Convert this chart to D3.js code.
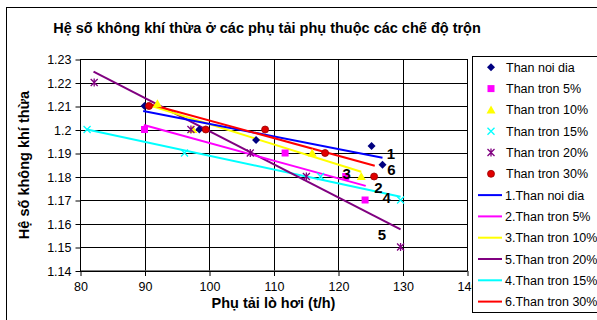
<!DOCTYPE html>
<html><head><meta charset="utf-8">
<script src="https://cdn.jsdelivr.net/npm/d3@7"></script>
<style>
body{margin:0;background:#fff;}
svg{display:block;font-family:"Liberation Sans",Arial,sans-serif;}
</style></head>
<body><svg id="c" width="597" height="320"></svg>
<script>
// ---- data ----
const seriesNames = ["Than noi dia","Than tron 5%","Than tron 10%","Than tron 15%","Than tron 20%","Than tron 30%"];
const noiDiaX = [90, 98.5, 107.3, 125.2, 126.9];
const noiDiaY = [1.21, 1.20, 1.1955, 1.193, 1.185];
const tron5X = [90, 111.8, 121.2, 124.2];
const tron5Y = [1.20, 1.19, 1.18, 1.17];
const tron10X = [92, 97.5, 116, 123.6];
const tron10Y = [1.211, 1.20, 1.19, 1.18];
const tron15X = [81.1, 96.2, 117.3, 129.7];
const tron15Y = [1.20, 1.19, 1.18, 1.17];
const tron20X = [82.2, 97.2, 106.4, 115.1, 129.7];
const tron20Y = [1.22, 1.20, 1.19, 1.18, 1.15];
const tron30X = [90.7, 99.5, 108.7, 118, 125.6];
const tron30Y = [1.21, 1.20, 1.20, 1.19, 1.18];
// trend lines: [startX, endX], [startY, endY]
const lineLabels = ["1","2","3","5","4","6"];
const lineNames = ["1.Than noi dia","2.Than tron 5%","3.Than tron 10%","5.Than tron 20%","4.Than tron 15%","6.Than tron 30%"];
const line1X = [89.8, 126.9], line1Y = [1.2079, 1.188];
const line2X = [89.9, 124.3], line2Y = [1.2019, 1.176];
const line3X = [90.6, 123.6], line3Y = [1.2104, 1.182];
const line5X = [82.1, 129.7], line5Y = [1.2246, 1.1575];
const line4X = [81.1, 129.7], line4Y = [1.20, 1.1714];
const line6X = [90.4, 125.7], line6Y = [1.2111, 1.1846];
// positions (data units) of the number labels 1..6
const labelX = {"1":128.2,"2":126.25,"3":121.35,"4":127.55,"5":126.8,"6":128.3};
const labelY = {"1":1.1899,"2":1.1754,"3":1.1811,"4":1.1711,"5":1.1551,"6":1.1831};
const xTicks = [80, 90, 100, 110, 120, 130, 140];
const yTicks = [1.14, 1.15, 1.16, 1.17, 1.18, 1.19, 1.20, 1.21, 1.22, 1.23];
const yTickLabels = ["1.14","1.15","1.16","1.17","1.18","1.19","1.2","1.21","1.22","1.23"];
const titleText = "Hệ số không khí thừa ở các phụ tải phụ thuộc các chế độ trộn";
const xTitle = "Phụ tải lò hơi (t/h)";
const yTitle = "Hệ số không khí thừa";

// ---- styles ----
const markerColors = ["#000080","#FF00FF","#FFFF00","#00FFFF","#800080","#E00000"];
const markerTypes = ["diamond","square","triangle","x","star","circle"];
const lineColors = ["#0000FF","#FF00FF","#FFFF00","#800080","#00FFFF","#FF0000"];

const svg = d3.select("#c");
const L = 80, R = 467, T = 59, B = 270.5;
const x = d3.scaleLinear().domain([80,140]).range([L,R]);
const y = d3.scaleLinear().domain([1.14,1.23]).range([B,T]);

// outer chart border
svg.append("rect").attr("x",6.5).attr("y",7.5).attr("width",600).attr("height",320)
  .attr("fill","#fff").attr("stroke","#000").attr("stroke-width",1);

// title
svg.append("text").attr("x",267).attr("y",33).attr("text-anchor","middle")
  .attr("font-size",14.5).attr("font-weight","bold").text(titleText);

// plot area
svg.append("rect").attr("x",L).attr("y",T).attr("width",R-L).attr("height",B-T).attr("fill","#fff");

// gridlines
const g = svg.append("g");
g.selectAll(".hg").data(yTicks).join("line")
  .attr("x1",L).attr("x2",R).attr("y1",d=>Math.round(y(d))+0.5).attr("y2",d=>Math.round(y(d))+0.5)
  .attr("stroke","#000").attr("stroke-width",1);
g.selectAll(".vg").data(xTicks).join("line")
  .attr("y1",T).attr("y2",B).attr("x1",d=>Math.round(x(d))+0.5).attr("x2",d=>Math.round(x(d))+0.5)
  .attr("stroke","#000").attr("stroke-width",1);

// axes
const yAxis = d3.axisLeft(y).tickValues(yTicks).tickFormat((d,i)=>yTickLabels[i]).tickSize(5).tickPadding(4);
const ya = svg.append("g").attr("transform",`translate(${L+0.5},0.5)`).call(yAxis);
const xAxis = d3.axisBottom(x).tickValues(xTicks).tickFormat(d3.format("d")).tickSize(5).tickPadding(6);
const xa = svg.append("g").attr("transform",`translate(0.5,${B+0.5})`).call(xAxis);
[ya,xa].forEach(a=>{
  a.select(".domain").remove();
  a.selectAll("line").attr("stroke","#000");
  a.selectAll("text").attr("font-size",12.5).attr("fill","#000").attr("font-family","Liberation Sans, Arial, sans-serif");
});
svg.append("rect").attr("x",L+0.5).attr("y",T+0.5).attr("width",R-L).attr("height",B-T)
  .attr("fill","none").attr("stroke","#000");

// axis titles
svg.append("text").attr("x",273.5).attr("y",308).attr("text-anchor","middle")
  .attr("font-size",14.5).attr("font-weight","bold").text(xTitle);
svg.append("text").attr("transform","translate(29,165) rotate(-90)").attr("text-anchor","middle")
  .attr("font-size",14.5).attr("font-weight","bold").text(yTitle);

// trend lines
const linesX = [line1X,line2X,line3X,line5X,line4X,line6X];
const linesY = [line1Y,line2Y,line3Y,line5Y,line4Y,line6Y];
const lineGen = d3.line().x(d=>x(d[0])).y(d=>y(d[1]));
const lineOrder = [4,3,1,2,0,5];
lineOrder.forEach(i=>{
  const pts = linesX[i].map((v,k)=>[v,linesY[i][k]]);
  svg.append("path").attr("d",lineGen(pts)).attr("fill","none")
    .attr("stroke",lineColors[i]).attr("stroke-width",2);
});

// markers
function drawMarker(sel, type, color){
  if(type==="diamond"){
    sel.append("path").attr("d","M0,-4L4,0L0,4L-4,0Z").attr("fill",color);
  } else if(type==="square"){
    sel.append("rect").attr("x",-3.5).attr("y",-3.5).attr("width",7).attr("height",7).attr("fill",color);
  } else if(type==="triangle"){
    sel.append("path").attr("d","M0,-4.5L4.5,3.5L-4.5,3.5Z").attr("fill",color);
  } else if(type==="x"){
    sel.append("path").attr("d","M-3.5,-3.5L3.5,3.5M-3.5,3.5L3.5,-3.5").attr("stroke",color).attr("stroke-width",1.3);
  } else if(type==="star"){
    sel.append("path").attr("d","M-3.5,-3.5L3.5,3.5M-3.5,3.5L3.5,-3.5M0,-4L0,4").attr("stroke",color).attr("stroke-width",1.3);
  } else if(type==="circle"){
    sel.append("circle").attr("r",3.5).attr("fill",color).attr("stroke","#900").attr("stroke-width",0.8);
  }
}
const ptsX = [noiDiaX,tron5X,tron10X,tron15X,tron20X,tron30X];
const ptsY = [noiDiaY,tron5Y,tron10Y,tron15Y,tron20Y,tron30Y];
ptsX.forEach((xs,i)=>{
  xs.forEach((v,k)=>{
    const m = svg.append("g").attr("transform",`translate(${x(v)},${y(ptsY[i][k])})`);
    drawMarker(m, markerTypes[i], markerColors[i]);
  });
});

// line number labels
lineLabels.forEach(lb=>{
  svg.append("text").attr("x",x(labelX[lb])).attr("y",y(labelY[lb])).attr("dy","0.36em")
    .attr("text-anchor","middle").attr("font-size",15).attr("font-weight","bold").text(lb);
});

// legend
const lg = svg.append("g");
lg.append("rect").attr("x",472.5).attr("y",56.5).attr("width",140).attr("height",256)
  .attr("fill","#fff").attr("stroke","#000");
const rowY0 = 67.3, rowH = 21.3;
seriesNames.forEach((n,i)=>{
  const yy = rowY0 + i*rowH;
  const m = lg.append("g").attr("transform",`translate(491,${yy})`);
  drawMarker(m, markerTypes[i], markerColors[i]);
  lg.append("text").attr("x",506).attr("y",yy).attr("dy","0.36em").attr("font-size",12.5).text(n);
});
lineNames.forEach((n,i)=>{
  const yy = rowY0 + (i+6)*rowH;
  lg.append("line").attr("x1",478).attr("x2",502).attr("y1",yy).attr("y2",yy)
    .attr("stroke",lineColors[i]).attr("stroke-width",2);
  lg.append("text").attr("x",505).attr("y",yy).attr("dy","0.36em").attr("font-size",12.5).text(n);
});
</script></body></html>
